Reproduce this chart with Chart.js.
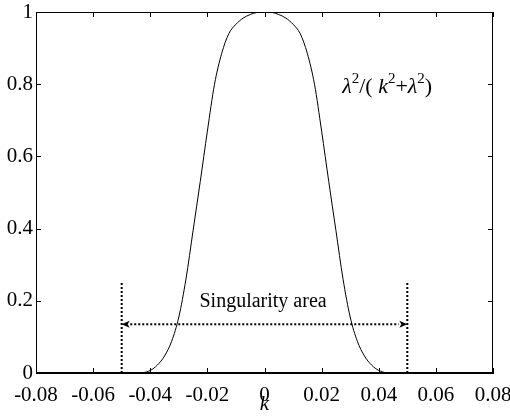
<!DOCTYPE html>
<html>
<head>
<meta charset="utf-8">
<script src="https://cdn.jsdelivr.net/npm/chart.js"></script>
<style>
  html, body { margin: 0; padding: 0; background: #fff; }
  canvas { display: block; }
</style>
</head>
<body>
<canvas id="myChart" width="510" height="418"></canvas>
<script>
// values
const kPoints = [-0.08, -0.06, -0.045, -0.0425, -0.04, -0.0375, -0.035, -0.0325, -0.03, -0.0275,
    -0.025, -0.0225, -0.02, -0.0175, -0.015, -0.0125, -0.01, -0.0075, -0.005, -0.0025, 0,
    0.0025, 0.005, 0.0075, 0.01, 0.0125, 0.015, 0.0175, 0.02, 0.0225, 0.025,
    0.0275, 0.03, 0.0325, 0.035, 0.0375, 0.04, 0.0425, 0.045, 0.06, 0.08];
const response = [0, 0, 0, 0.001, 0.007, 0.022, 0.047, 0.088, 0.155, 0.26,
    0.395, 0.53, 0.67, 0.80, 0.885, 0.94, 0.966, 0.983, 0.993, 0.999, 1.0,
    0.999, 0.993, 0.983, 0.966, 0.94, 0.885, 0.80, 0.67, 0.53, 0.395,
    0.26, 0.155, 0.088, 0.047, 0.022, 0.007, 0.001, 0, 0, 0];
const markerK = [-0.05, 0.05];
const markerTop = 0.255;
const arrowY = 0.135;
const xTicks = [-0.08, -0.06, -0.04, -0.02, 0, 0.02, 0.04, 0.06, 0.08];
const yTicks = [0, 0.2, 0.4, 0.6, 0.8, 1];

const FONT = '"Liberation Serif", "Times New Roman", serif';

// box, inward ticks, arrowheads and text
const decorations = {
    id: 'decorations',
    afterDraw(chart) {
        const ctx = chart.ctx;
        const a = chart.chartArea;
        const xs = chart.scales.x, ys = chart.scales.y;
        ctx.save();
        ctx.strokeStyle = '#000';
        ctx.lineWidth = 1;
        ctx.strokeRect(a.left + 0.5, a.top + 0.5, a.right - a.left - 1, a.bottom - a.top - 1);
        ctx.beginPath();
        xTicks.forEach(v => {
            const px = Math.round(xs.getPixelForValue(v)) + 0.5;
            ctx.moveTo(px, a.bottom); ctx.lineTo(px, a.bottom - 5);
            ctx.moveTo(px, a.top); ctx.lineTo(px, a.top + 5);
        });
        yTicks.forEach(v => {
            const py = Math.round(ys.getPixelForValue(v)) + 0.5;
            ctx.moveTo(a.left, py); ctx.lineTo(a.left + 5, py);
            ctx.moveTo(a.right, py); ctx.lineTo(a.right - 5, py);
        });
        ctx.stroke();

        // arrowheads
        const ay = ys.getPixelForValue(arrowY);
        ctx.fillStyle = '#000';
        markerK.forEach(k => {
            const tip = xs.getPixelForValue(k);
            const dir = k < 0 ? 1 : -1;
            ctx.beginPath();
            ctx.moveTo(tip, ay);
            ctx.lineTo(tip + dir * 8, ay - 3.5);
            ctx.lineTo(tip + dir * 6, ay);
            ctx.lineTo(tip + dir * 8, ay + 3.5);
            ctx.closePath();
            ctx.fill();
        });

        // "Singularity area"
        ctx.font = '20px ' + FONT;
        ctx.textAlign = 'center';
        ctx.textBaseline = 'alphabetic';
        ctx.fillText('Singularity area', xs.getPixelForValue(-0.0005), ys.getPixelForValue(0.184));

        // formula
        const parts = [
            { t: 'λ', it: true }, { t: '2', sup: true }, { t: '/( ' },
            { t: 'k', it: true }, { t: '2', sup: true }, { t: '+' },
            { t: 'λ', it: true }, { t: '2', sup: true }, { t: ')' }
        ];
        let x = xs.getPixelForValue(0.0272);
        const base = ys.getPixelForValue(0.776);
        ctx.textAlign = 'left';
        parts.forEach(p => {
            ctx.font = (p.it ? 'italic ' : '') + (p.sup ? '15px ' : '22px ') + FONT;
            ctx.fillText(p.t, x, p.sup ? base - 10 : base);
            x += ctx.measureText(p.t).width;
        });
        ctx.restore();
    }
};

const dotted = {
    borderColor: '#000',
    borderWidth: 2,
    borderDash: [2, 2],
    pointRadius: 0,
    showLine: true,
    fill: false
};

new Chart(document.getElementById('myChart').getContext('2d'), {
    type: 'scatter',
    data: {
        datasets: [
            {
                data: kPoints.map((k, i) => ({ x: k, y: response[i] })),
                borderColor: '#000',
                borderWidth: 1,
                pointRadius: 0,
                showLine: true,
                cubicInterpolationMode: 'monotone'
            },
            Object.assign({ data: [{ x: markerK[0], y: 0 }, { x: markerK[0], y: markerTop }] }, dotted),
            Object.assign({ data: [{ x: markerK[1], y: 0 }, { x: markerK[1], y: markerTop }] }, dotted),
            Object.assign({ data: [{ x: markerK[0] + 0.003, y: arrowY }, { x: markerK[1] - 0.003, y: arrowY }] }, dotted)
        ]
    },
    options: {
        responsive: false,
        animation: false,
        layout: { padding: { top: 12, right: 17, left: 0, bottom: 0 } },
        plugins: { legend: { display: false }, tooltip: { enabled: false } },
        scales: {
            x: {
                type: 'linear',
                min: -0.08, max: 0.08,
                afterBuildTicks: s => { s.ticks = xTicks.map(v => ({ value: v })); },
                afterFit: s => { s.height = 45; s.paddingLeft = 0; s.paddingRight = 0; },
                grid: { display: false, drawTicks: false },
                border: { color: '#000' },
                ticks: {
                    color: '#000', padding: 10,
                    font: { family: FONT, size: 21 },
                    callback: v => v === 0 ? '0' : v.toFixed(2)
                },
                title: {
                    display: true, text: 'k', color: '#000',
                    font: { family: FONT, size: 21, style: 'italic' },
                    padding: { top: 0, bottom: 1 }
                }
            },
            y: {
                min: 0, max: 1,
                afterBuildTicks: s => { s.ticks = yTicks.map(v => ({ value: v })); },
                afterFit: s => { s.width = 36; s.paddingTop = 0; s.paddingBottom = 0; },
                grid: { display: false, drawTicks: false },
                border: { color: '#000' },
                ticks: {
                    color: '#000', padding: 3,
                    font: { family: FONT, size: 21 },
                    callback: v => String(Math.round(v * 10) / 10)
                }
            }
        }
    },
    plugins: [decorations]
});
</script>
</body>
</html>
